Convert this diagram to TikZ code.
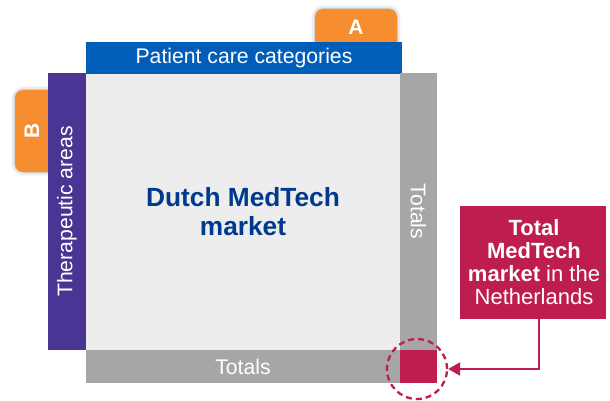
\documentclass[tikz,border=0pt]{standalone}
\usepackage{fontspec}
\setmainfont{Liberation Sans}
\usetikzlibrary{arrows.meta,shadows.blur}
\definecolor{tabor}{HTML}{F68D2E}
\definecolor{barblue}{HTML}{005EB8}
\definecolor{barpur}{HTML}{4A3594}
\definecolor{bargray}{HTML}{A6A6A6}
\definecolor{sqlight}{HTML}{EDEDED}
\definecolor{crim}{HTML}{BE1E4D}
\definecolor{navy}{HTML}{003A8F}
\tikzset{
  blockbox/.style={inner sep=0pt, outer sep=0pt, anchor=north west},
  tabbox/.style={blockbox, fill=tabor, rounded corners=8pt,
    blur shadow={shadow xshift=0pt, shadow yshift=0pt, shadow blur radius=4pt, shadow opacity=35}},
  reglabel/.style={text=white, font=\fontsize{21.2}{23}\selectfont},
}
\begin{document}
\begin{tikzpicture}[x=1pt,y=-1pt]
\useasboundingbox (0,0) rectangle (610,401);
% orange tabs (behind bars)
\node[tabbox, minimum width=82pt, minimum height=42pt] (taba) at (315,9) {};
\node[tabbox, minimum width=45pt, minimum height=82pt] (tabb) at (15,90) {};
\node[text=white, font=\fontsize{21}{23}\selectfont\bfseries] (la) at (356,27) {A};
\node[text=white, font=\fontsize{21}{23}\selectfont\bfseries, rotate=90] (lb) at (32,131) {B};
% main square
\node[blockbox, fill=sqlight, minimum width=314pt, minimum height=277pt] (sq) at (86,73) {};
% bars
\node[blockbox, fill=barblue, minimum width=316pt, minimum height=32pt] (top) at (86,42) {};
\node[blockbox, fill=barpur, minimum width=38pt, minimum height=277pt] (left) at (48,73) {};
\node[blockbox, fill=bargray, minimum width=37pt, minimum height=277pt] (right) at (400,73) {};
\node[blockbox, fill=bargray, minimum width=314pt, minimum height=33pt] (bottom) at (86,350) {};
\node[blockbox, fill=crim, minimum width=37pt, minimum height=33pt] (corner) at (400,350) {};
% labels
\node[reglabel] at (top.center) {Patient care categories};
\node[reglabel, rotate=90] at (left.center) {Therapeutic areas};
\node[reglabel, rotate=-90] at (right.center) {Totals};
\node[reglabel] at (bottom.center) {Totals};
\node[text=navy, align=center, font=\fontsize{26.3}{29}\selectfont\bfseries] (mk) at (sq.center) {Dutch MedTech\\market};
% dashed circle
\node[circle, draw=crim, dashed, dash pattern=on 6pt off 4pt, line width=2.3pt, minimum size=60pt, inner sep=0pt] (circ) at (417,369) {};
% total box
\node[blockbox, fill=crim, minimum width=146pt, minimum height=113pt] (tot) at (460,206) {};
\node[text=white, align=center, font=\fontsize{22}{23}\selectfont] (totl) at (534,262) {\textbf{Total}\\\textbf{MedTech}\\\textbf{market} in the\\Netherlands};
% connector
\coordinate (arrs) at (539,319);
\draw[crim, line width=2.3pt, -{Triangle[length=12pt,width=13pt]}] (arrs) |- (circ.east);
\end{tikzpicture}
\end{document}
